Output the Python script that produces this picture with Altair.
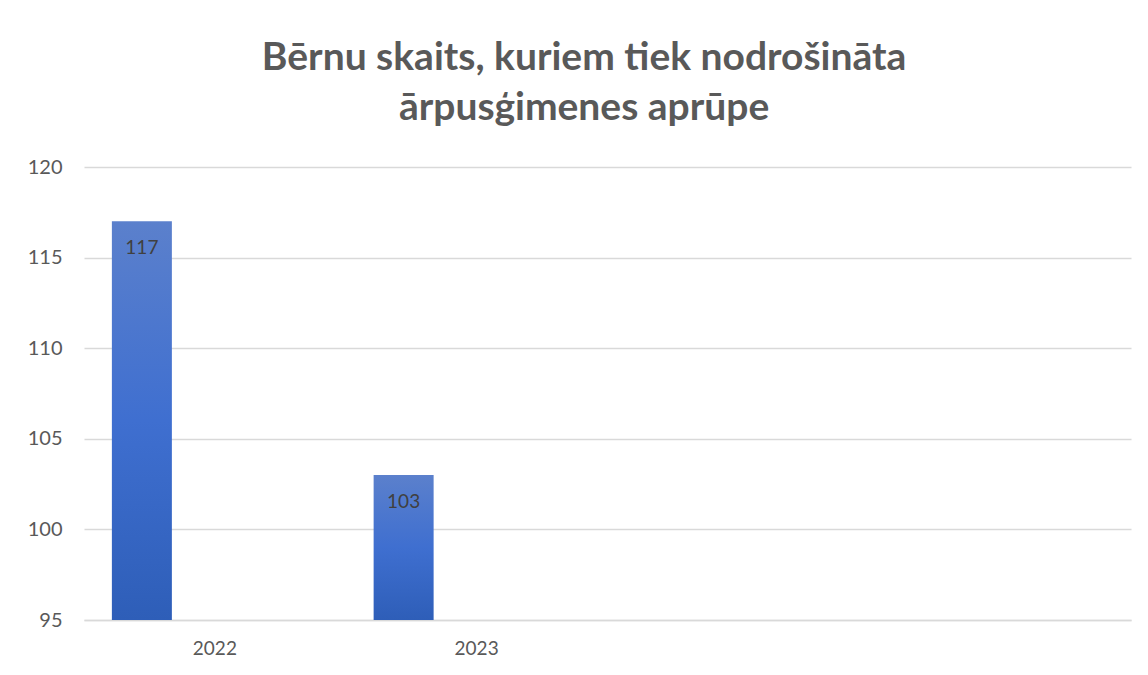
import altair as alt
import pandas as pd

# Data
years = ["2022", "2023"]
values = [117, 103]
x_domain = ["2022", "2023", "c3", "c4"]
y_ticks = [95, 100, 105, 110, 115, 120]
title_lines = ["Bērnu skaits, kuriem tiek nodrošināta", "ārpusģimenes aprūpe"]

df = pd.DataFrame({"year": years, "value": values})

FONT = "Lato"
GRID = "#D9D9D9"
TXT = "#595959"

gradient = alt.Gradient(
    gradient="linear",
    stops=[alt.GradientStop(color="#5B80CC", offset=0),
           alt.GradientStop(color="#3F6FD0", offset=0.5),
           alt.GradientStop(color="#2E5EB8", offset=1)],
    x1=0, x2=0, y1=0, y2=1,
)

x_enc = alt.X(
    "year:N",
    scale=alt.Scale(domain=x_domain, paddingInner=0, paddingOuter=0),
    axis=alt.Axis(
        title=None, labelAngle=0, labelFont=FONT, labelFontSize=19, labelColor=TXT,
        labelPadding=19, ticks=False, domainColor=GRID, domainWidth=1.5,
        labelExpr="datum.label == 'c3' || datum.label == 'c4' ? '' : datum.label",
        grid=False,
    ),
)
y_enc = alt.Y(
    "value:Q",
    scale=alt.Scale(domain=[95, 120], zero=False, nice=False),
    axis=alt.Axis(
        title=None, values=y_ticks, labelFont=FONT, labelFontSize=20, labelColor=TXT,
        labelPadding=22, ticks=False, domain=False, gridColor=GRID, gridWidth=1.5,
    ),
)

bars = alt.Chart(df).mark_bar(size=60, xOffset=-73, color=gradient).encode(
    x=x_enc, y=y_enc, y2=alt.datum(95)
)
labels = alt.Chart(df).mark_text(
    xOffset=-73, dy=27, font=FONT, fontSize=19, color="#404040", baseline="middle"
).encode(x=alt.X("year:N", scale=alt.Scale(domain=x_domain)), y="value:Q", text="value:Q")

chart = (bars + labels).properties(
    width=1047,
    height=453,
    title=alt.TitleParams(
        text=title_lines, font=FONT, fontSize=39, fontWeight="bold", color=TXT,
        anchor="middle", frame="bounds", lineHeight=50, offset=29, dx=5,
    ),
    padding={"left": 19, "top": 31, "right": 8, "bottom": 10},
).configure(background="white").configure_view(stroke=None)

chart.save("out.html", embed_options={"renderer": "svg", "actions": False})
